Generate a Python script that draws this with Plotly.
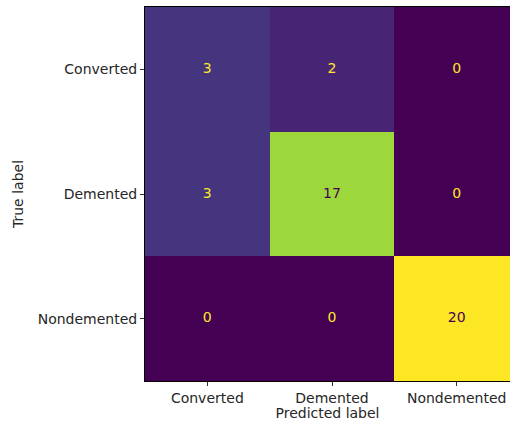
import plotly.graph_objects as go

# Confusion matrix of the dementia classifier
labels = ["Converted", "Demented", "Nondemented"]
counts = [
    [3, 2, 0],
    [3, 17, 0],
    [0, 0, 20],
]

vmax = max(max(r) for r in counts)
thresh = vmax / 2.0
dark_txt = "#440154"
light_txt = "#fde725"

idx = list(range(len(labels)))

fig = go.Figure()
fig.add_trace(go.Heatmap(
    z=counts, x=idx, y=idx,
    colorscale="Viridis", zmin=0, zmax=vmax,
    showscale=False, hoverinfo="skip",
))

# per-cell count labels, coloured for contrast against the cell
tx, ty, tt, tc = [], [], [], []
for i, row in enumerate(counts):
    for j, v in enumerate(row):
        tx.append(j)
        ty.append(i)
        tt.append(str(v))
        tc.append(dark_txt if v >= thresh else light_txt)
fig.add_trace(go.Scatter(
    x=tx, y=ty, text=tt, mode="text",
    textfont=dict(family="DejaVu Sans", size=14, color=tc),
    hoverinfo="skip", showlegend=False,
))

cell_px = 374 / 3.0
plot_w = 510 - 145
x_hi = -0.5 + plot_w / cell_px

fig.update_layout(
    width=510, height=421,
    margin=dict(l=145, r=0, t=7, b=40),
    paper_bgcolor="white", plot_bgcolor="white",
    font=dict(family="DejaVu Sans", size=14, color="#262626"),
    showlegend=False,
)
fig.update_xaxes(
    range=[-0.5, x_hi], tickvals=idx, ticktext=labels,
    ticks="outside", ticklen=4, tickwidth=1, tickcolor="#333",
    showline=True, linecolor="black", linewidth=1, mirror=True,
    showgrid=False, zeroline=False,
    title=dict(text="Predicted label", standoff=3, font=dict(size=14)),
)
fig.update_yaxes(
    range=[2.5, -0.5], tickvals=idx, ticktext=labels,
    ticks="outside", ticklen=4, tickwidth=1, tickcolor="#333",
    showline=True, linecolor="black", linewidth=1,
    showgrid=False, zeroline=False,
    title=dict(text="True label", standoff=10, font=dict(size=14)),
)

fig.write_html("out.html")
